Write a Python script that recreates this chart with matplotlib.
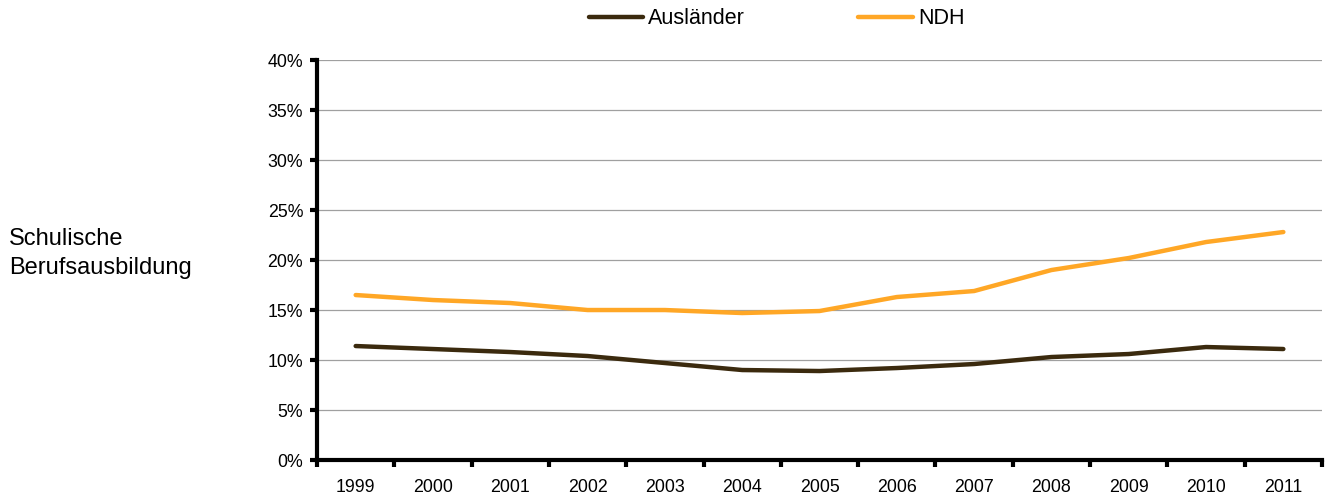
import numpy as np
import matplotlib
matplotlib.use('Agg')
from matplotlib import pyplot as plt
from matplotlib.ticker import FixedLocator, PercentFormatter

plt.rcParams['font.family'] = ['Liberation Sans', 'DejaVu Sans']

years = ['1999', '2000', '2001', '2002', '2003', '2004', '2005',
         '2006', '2007', '2008', '2009', '2010', '2011']
auslaender = [11.4, 11.1, 10.8, 10.4, 9.7, 9.0, 8.9, 9.2, 9.6, 10.3, 10.6, 11.3, 11.1]
ndh = [16.5, 16.0, 15.7, 15.0, 15.0, 14.7, 14.9, 16.3, 16.9, 19.0, 20.2, 21.8, 22.8]

fig = plt.figure(figsize=(13.32, 4.97), dpi=100)
ax = fig.add_axes([0.238, 0.0744, 0.7545, 0.8048])

x = np.arange(len(years))
ax.plot(x, auslaender, color='#3b2a0e', lw=3.2, label='Ausländer', solid_capstyle='round')
ax.plot(x, ndh, color='#ffa726', lw=3.2, label='NDH', solid_capstyle='round')

ax.set_xlim(-0.5, len(years) - 0.5)
ax.set_ylim(0, 40)
ax.set_yticks(np.arange(0, 41, 5))
ax.yaxis.set_major_formatter(PercentFormatter(decimals=0))
ax.yaxis.grid(True, color='#a0a0a0', lw=0.9)
ax.set_axisbelow(True)

ax.xaxis.set_major_locator(FixedLocator(np.arange(-0.5, len(years), 1.0)))
ax.xaxis.set_minor_locator(FixedLocator(x))
ax.set_xticklabels([])
ax.set_xticklabels(years, minor=True)
ax.tick_params(axis='x', which='major', length=5, width=3, direction='out')
ax.tick_params(axis='x', which='minor', length=0, pad=14, labelsize=12.8)
ax.tick_params(axis='y', length=5, width=3, direction='out', pad=5, labelsize=12.8)

for s in ['top', 'right']:
    ax.spines[s].set_visible(False)
for s in ['left', 'bottom']:
    ax.spines[s].set_linewidth(3)

fig.text(0.0065, 0.49, 'Schulische\nBerufsausbildung', fontsize=17,
         va='center', ha='left', linespacing=1.4)

fig.legend(loc='center', bbox_to_anchor=(0.583, 0.962), ncol=2, frameon=False,
           fontsize=15.5, handlelength=2.55, handletextpad=0.23, columnspacing=5.25)

fig.savefig('out.png', dpi=100)
